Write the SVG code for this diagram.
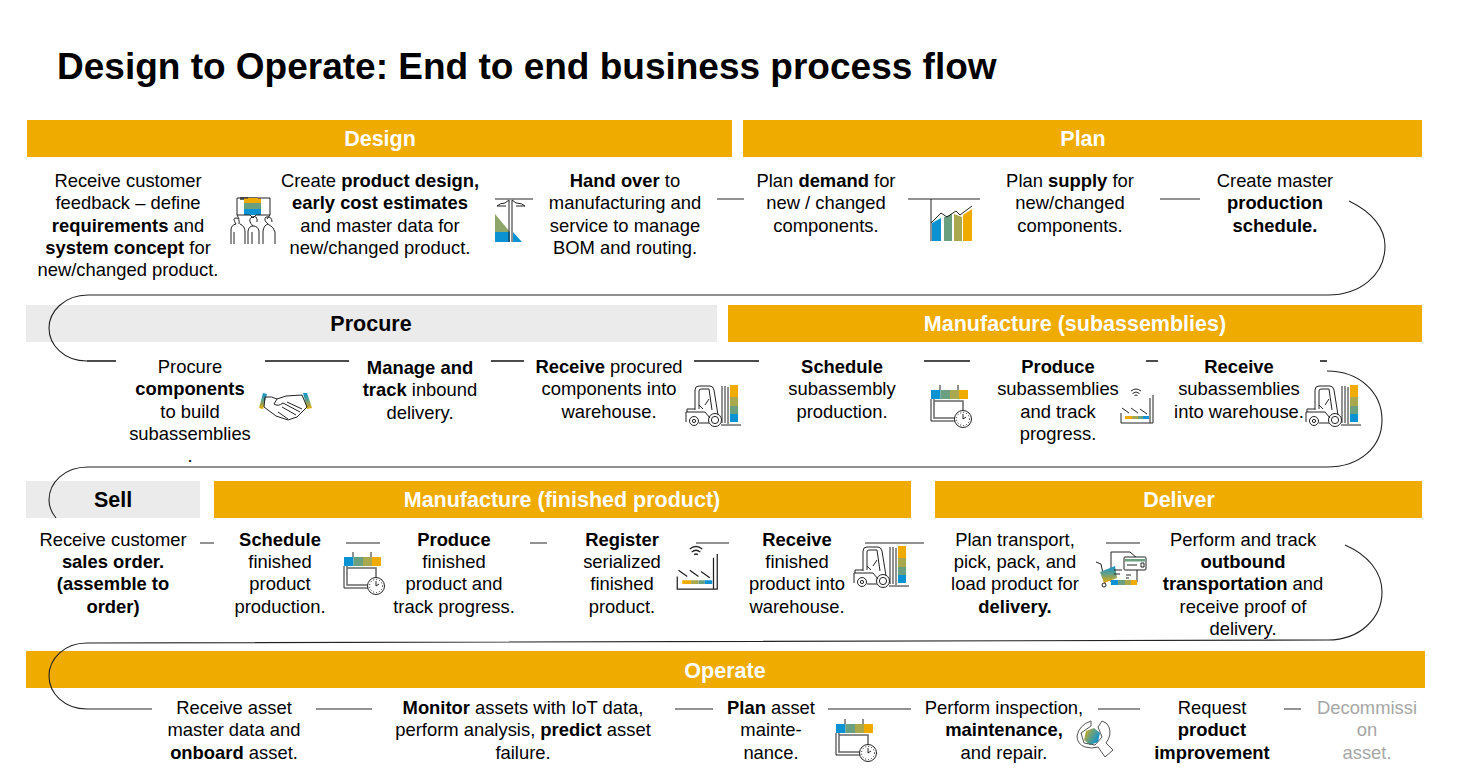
<svg xmlns="http://www.w3.org/2000/svg" width="1463" height="774" viewBox="0 0 1463 774">
<style>
text{font-family:"Liberation Sans",Arial,sans-serif;fill:#000}
.t{font-size:37px;font-weight:700}
.h{font-size:21.500px;font-weight:700;text-anchor:middle;fill:#fff}
.hd{fill:#000}
.b{font-size:18.400px;text-anchor:middle}
.b tspan.s{font-weight:700}
.off{fill:#a6a6a6}
.y{fill:#f0ab00}
.g{fill:#ebebeb}
.dash{stroke:#6f6f6f;stroke-width:1.6;fill:none}
.dk{stroke:#111;stroke-width:1.3;fill:none}
.cur{stroke:#222;stroke-width:1.1;fill:none}
.i{stroke:#222;stroke-width:1;fill:none}
.ig{stroke:#666;stroke-width:1.5;fill:none}
</style>
<defs>
<linearGradient id="vr" x1="0" y1="0" x2="0" y2="1"><stop offset="0" stop-color="#0a92d2"/><stop offset=".5" stop-color="#6aa07f"/><stop offset="1" stop-color="#f0ab00"/></linearGradient>
<linearGradient id="h2" x1="0" y1="0" x2="1" y2="0.600"><stop offset="0" stop-color="#f0ab00"/><stop offset=".5" stop-color="#6aa07f"/><stop offset="1" stop-color="#0a92d2"/></linearGradient>
<g id="forklift">
<path class="i" d="M10 25V5Q10 1 14 1H25Q28 1 29 5L33 30M14 24V6Q14 4 16 4H24L27 25M14 20L18 24M20 20L24 14"/>
<path class="i" d="M1 37V27H20L25 33M2 27V24H10"/>
<circle class="i" cx="9" cy="36" r="4.500"/><circle class="i" cx="9" cy="36" r="1.600"/>
<circle class="i" cx="30" cy="35" r="6.500"/><circle class="i" cx="30" cy="35" r="3.600"/>
<path class="i" d="M14 38H24M37 38V1M40 38V1M36 40H56"/>
<path class="i" d="M43 39V2"/>
<rect x="45" y="0" width="8" height="12" fill="#f0ab00"/><rect x="45" y="12" width="8" height="9" fill="#aaa84e"/><rect x="45" y="21" width="8" height="8" fill="#6aa07f"/><rect x="45" y="29" width="8" height="8" fill="#0a92d2"/>
</g>
<g id="calendar">
<rect x="0" y="5" width="9.500" height="9" fill="#0a92d2"/><rect x="9.500" y="5" width="9.500" height="9" fill="#6aa07f"/><rect x="19" y="5" width="9" height="9" fill="#aaa84e"/><rect x="28" y="5" width="9" height="9" fill="#f0ab00"/>
<path class="i" d="M9 0V5M27 0V5M0 14V36H24"/>
<path class="ig" d="M3 14V33H24M3 16H32V26" stroke-width="1.2"/>
<circle cx="32" cy="34" r="8.500" fill="#fff" stroke="#222"/>
<circle cx="32" cy="34" r="6.500" fill="#fff" stroke="#222" stroke-width="1" stroke-dasharray="1 2"/>
<path class="i" d="M32 29V34L35 32"/>
</g>
<g id="factory">
<path class="i" d="M1 26V36H33V8M30 36V11"/>
<path class="i" d="M2 21L9 26M11 21L18 26M20 22L27 27"/>
<rect x="5" y="29" width="7" height="3" fill="#f0ab00"/><rect x="12" y="29" width="6" height="3" fill="#aaa84e"/><rect x="18" y="29" width="5" height="3" fill="#6aa07f"/><rect x="23" y="29" width="6" height="3" fill="#0a92d2"/>
<path class="i" d="M11 4Q16 0 21 4M12.500 6.500Q16 3.500 19.500 6.500M14.500 8.500Q16 7.500 17.500 8.500"/>
</g>
</defs>

<text class="t" x="57" y="79">Design to Operate: End to end business process flow</text>

<g id="bars">
<g id="bar-design"><rect class="y" x="27" y="120" width="705" height="37"/><text class="h" x="380" y="146">Design</text></g>
<g id="bar-plan"><rect class="y" x="743" y="120" width="679" height="37"/><text class="h" x="1083" y="146">Plan</text></g>
<g id="bar-procure"><rect class="g" x="26" y="305" width="691" height="37"/><text class="h hd" x="371" y="331">Procure</text></g>
<g id="bar-manufacture-sub"><rect class="y" x="728" y="305" width="694" height="37"/><text class="h" x="1075" y="331">Manufacture (subassemblies)</text></g>
<g id="bar-sell"><rect class="g" x="26" y="481" width="174" height="37"/><text class="h hd" x="113" y="507">Sell</text></g>
<g id="bar-manufacture-fin"><rect class="y" x="214" y="481" width="697" height="37"/><text class="h" x="562" y="507">Manufacture (finished product)</text></g>
<g id="bar-deliver"><rect class="y" x="935" y="481" width="487" height="37"/><text class="h" x="1179" y="507">Deliver</text></g>
<g id="bar-operate"><rect class="y" x="26" y="651" width="1399" height="37"/><text class="h" x="725" y="678">Operate</text></g>
</g>

<g id="connectors">
<path class="dash" d="M717 199H744M908 199H980M1160 199H1200M495 199H533"/>
<path class="cur" d="M1349 201C1372 212 1385 228 1385 246C1385 275 1360 295 1328 295H88C64 295 49 312 49 328C49 345 64 361 87 361"/>
<path class="dk" d="M87 361H116M265 361H349M491 361H524M694 361H759M924 361H970M1146 361H1158M1320 361H1327"/>
<path class="cur" d="M1327 371C1360 371 1382 393 1382 420C1382 447 1360 467 1327 467H88C64 467 49 483 49 500C49 506 51 512 56 518"/>
<path class="dash" d="M200 543H214M346 543H380M530 543H547M696 543H729M865 543H924M1106 543H1140"/>
<path class="cur" d="M1345 545C1368 555 1382 572 1382 592C1382 618 1360 640 1328 640L87 643C64 643 49 659 49 676C49 693 64 709 87 709"/>
<path class="dash" d="M87 709H152M316 709H372M675 709H713M828 709H911M1098 709H1140M1284 709H1301"/>
</g>

<g id="n1"><text class="b"><tspan x="128" y="187">Receive customer</tspan><tspan x="128" y="209">feedback – define</tspan><tspan x="128" y="232"><tspan class="s">requirements</tspan> and</tspan><tspan x="128" y="254"><tspan class="s">system concept</tspan> for</tspan><tspan x="128" y="276">new/changed product.</tspan></text></g>
<g id="icon-people">
<rect x="240" y="197" width="18" height="3" fill="#666"/>
<rect x="244" y="198" width="17" height="5" fill="#f0ab00"/><rect x="244" y="203" width="17" height="6" fill="#6aa07f"/><rect x="244" y="209" width="17" height="6" fill="#0a92d2"/>
<path class="i" d="M248 198H237V215H250L253 218L256 215H270V198H258M237 215L239 219M270 215L267 219"/>
<path class="i" d="M231 244V230Q231 225 236 224M240 224Q245 226 245 232V244M236 224Q232 218 236 218Q240 218 239 224M234 232V244M248 244V231Q249 226 253 226Q258 226 259 231V244M253 226Q247 220 252 217Q258 215 257 222M252 232V244M263 244V231Q264 225 268 224Q274 227 275 232V244M268 224Q263 220 266 217Q272 216 272 222"/>
</g>
<g id="n2"><text class="b"><tspan x="380" y="187">Create <tspan class="s">product design,</tspan></tspan><tspan x="380" y="209" class="s">early cost estimates</tspan><tspan x="380" y="232">and master data for</tspan><tspan x="380" y="254">new/changed product.</tspan></text></g>
<g id="icon-handover">
<path d="M495 214L510 232H495Z" fill="#8fa66a"/><path d="M495 232H510V242H495Z" fill="#0a92d2"/><path d="M513 232L522 242H513Z" fill="#0a92d2"/>
<path class="i" d="M509 200V242M512 200V242M497 206Q500 203 505 203L509 200M497 206H506M512 200L516 203Q522 203 525 206H516"/>
</g>
<g id="n3"><text class="b"><tspan x="625" y="187"><tspan class="s">Hand over</tspan> to</tspan><tspan x="625" y="209">manufacturing and</tspan><tspan x="625" y="232">service to manage</tspan><tspan x="625" y="254">BOM and routing.</tspan></text></g>
<g id="n4"><text class="b"><tspan x="826" y="187">Plan <tspan class="s">demand</tspan> for</tspan><tspan x="826" y="209">new / changed</tspan><tspan x="826" y="232">components.</tspan></text></g>
<g id="icon-chart">
<path d="M932 223L941 218V241H932Z" fill="#0a92d2"/><path d="M944 217L952 214V241H944Z" fill="#6aa07f"/><path d="M954 214L962 217V241H954Z" fill="#aaa84e"/><path d="M963 215L972 209V241H963Z" fill="#f0ab00"/>
<path class="i" d="M931 199V241M931 223L941 213L947 217L956 211L960 215L972 206"/>
</g>
<g id="n5"><text class="b"><tspan x="1070" y="187">Plan <tspan class="s">supply</tspan> for</tspan><tspan x="1070" y="209">new/changed</tspan><tspan x="1070" y="232">components.</tspan></text></g>
<g id="n6"><text class="b"><tspan x="1275" y="187">Create master</tspan><tspan x="1275" y="209" class="s">production</tspan><tspan x="1275" y="232" class="s">schedule.</tspan></text></g>

<g id="n7"><text class="b"><tspan x="190" y="373">Procure</tspan><tspan x="190" y="395" class="s">components</tspan><tspan x="190" y="418">to build</tspan><tspan x="190" y="440">subassemblies</tspan><tspan x="190" y="462">.</tspan></text></g>
<g id="icon-handshake">
<path d="M263 393L267 394L263 409L259 408Z" fill="url(#vr)"/><path d="M303 393L307 393L312 408L307 409Z" fill="url(#vr)"/>
<path class="i" d="M265 397Q272 396 277 399L286 396L302 395L307 407L297 417L288 420L276 416L264 407ZM277 399L274 404Q278 407 283 403L300 412M287 402L302 409M282 407L296 415M278 412L288 419"/>
</g>
<g id="n8"><text class="b"><tspan x="420" y="374" class="s">Manage and</tspan><tspan x="420" y="396"><tspan class="s">track</tspan> inbound</tspan><tspan x="420" y="419">delivery.</tspan></text></g>
<g id="n9"><text class="b"><tspan x="609" y="373"><tspan class="s">Receive</tspan> procured</tspan><tspan x="609" y="395">components into</tspan><tspan x="609" y="418">warehouse.</tspan></text></g>
<use id="icon-forklift-1" href="#forklift" x="685" y="385"/>
<g id="n10"><text class="b"><tspan x="842" y="373" class="s">Schedule</tspan><tspan x="842" y="395">subassembly</tspan><tspan x="842" y="418">production.</tspan></text></g>
<use id="icon-calendar-1" href="#calendar" x="931" y="385"/>
<g id="n11"><text class="b"><tspan x="1058" y="373" class="s">Produce</tspan><tspan x="1058" y="395">subassemblies</tspan><tspan x="1058" y="418">and track</tspan><tspan x="1058" y="440">progress.</tspan></text></g>
<use id="icon-factory-1" href="#factory" x="1120" y="387"/>
<g id="n12"><text class="b"><tspan x="1239" y="373" class="s">Receive</tspan><tspan x="1239" y="395">subassemblies</tspan><tspan x="1239" y="418">into warehouse.</tspan></text></g>
<use id="icon-forklift-2" href="#forklift" x="1305" y="385"/>

<g id="n13"><text class="b"><tspan x="113" y="546">Receive customer</tspan><tspan x="113" y="568" class="s">sales order.</tspan><tspan x="113" y="590" class="s">(assemble to</tspan><tspan x="113" y="613" class="s">order)</tspan></text></g>
<g id="n14"><text class="b"><tspan x="280" y="546" class="s">Schedule</tspan><tspan x="280" y="568">finished</tspan><tspan x="280" y="590">product</tspan><tspan x="280" y="613">production.</tspan></text></g>
<use id="icon-calendar-2" href="#calendar" x="344" y="552"/>
<g id="n15"><text class="b"><tspan x="454" y="546" class="s">Produce</tspan><tspan x="454" y="568">finished</tspan><tspan x="454" y="590">product and</tspan><tspan x="454" y="613">track progress.</tspan></text></g>
<g id="n16"><text class="b"><tspan x="622" y="546" class="s">Register</tspan><tspan x="622" y="568">serialized</tspan><tspan x="622" y="590">finished</tspan><tspan x="622" y="613">product.</tspan></text></g>
<use id="icon-factory-2" href="#factory" transform="translate(676 544) scale(1.25)"/>
<g id="n17"><text class="b"><tspan x="797" y="546" class="s">Receive</tspan><tspan x="797" y="568">finished</tspan><tspan x="797" y="590">product into</tspan><tspan x="797" y="613">warehouse.</tspan></text></g>
<use id="icon-forklift-3" href="#forklift" x="853" y="546"/>
<g id="n18"><text class="b"><tspan x="1015" y="546">Plan transport,</tspan><tspan x="1015" y="568">pick, pack, and</tspan><tspan x="1015" y="590">load product for</tspan><tspan x="1015" y="613" class="s">delivery.</tspan></text></g>
<g id="icon-delivery">
<path class="i" d="M1111 552H1130L1137 558V582H1111ZM1096 562L1101 564L1105 583"/>
<path d="M1100 572L1115 566L1117 578L1104 583Z" fill="url(#vr)"/>
<circle class="i" cx="1104" cy="585" r="2"/>
<rect x="1111" y="580" width="7" height="5" fill="#0a92d2"/><rect x="1118" y="580" width="7" height="5" fill="#6aa07f"/><rect x="1125" y="580" width="6" height="5" fill="#aaa84e"/><rect x="1131" y="580" width="6" height="5" fill="#f0ab00"/>
<rect x="1124" y="557" width="22" height="13" rx="1" fill="#fff" stroke="#222"/>
<rect x="1125" y="559" width="20" height="2.500" fill="#6aa07f"/>
<path class="i" d="M1127 565H1137M1141 563H1144V567H1141ZM1114 570H1122M1114 574H1120M1126 575H1131M1126 578H1129"/>
</g>
<g id="n19"><text class="b"><tspan x="1243" y="546">Perform and track</tspan><tspan x="1243" y="568" class="s">outbound</tspan><tspan x="1243" y="590"><tspan class="s">transportation</tspan> and</tspan><tspan x="1243" y="613">receive proof of</tspan><tspan x="1243" y="635">delivery.</tspan></text></g>

<g id="n20"><text class="b"><tspan x="234" y="714">Receive asset</tspan><tspan x="234" y="736">master data and</tspan><tspan x="234" y="759"><tspan class="s">onboard</tspan> asset.</tspan></text></g>
<g id="n21"><text class="b"><tspan x="523" y="714"><tspan class="s">Monitor</tspan> assets with IoT data,</tspan><tspan x="523" y="736">perform analysis, <tspan class="s">predict</tspan> asset</tspan><tspan x="523" y="759">failure.</tspan></text></g>
<g id="n22"><text class="b"><tspan x="771" y="714"><tspan class="s">Plan</tspan> asset</tspan><tspan x="771" y="736">mainte-</tspan><tspan x="771" y="759">nance.</tspan></text></g>
<use id="icon-calendar-3" href="#calendar" x="836" y="719"/>
<g id="n23"><text class="b"><tspan x="1004" y="714">Perform inspection,</tspan><tspan x="1004" y="736" class="s">maintenance,</tspan><tspan x="1004" y="759">and repair.</tspan></text></g>
<g id="icon-wrench">
<path d="M1086 731L1094 728L1100 733L1098 742L1090 745L1084 740Z" fill="url(#h2)"/>
<path d="M1091 721Q1079 725 1077 736Q1077 744 1085 747Q1092 749 1098 747L1105 757L1113 750L1106 743Q1112 735 1109 727Q1107 722 1102 721L1098 727L1102 737L1095 745L1084 743L1081 733L1091 726Z" fill="none" stroke="#555" stroke-width="1"/>
</g>
<g id="n24"><text class="b"><tspan x="1212" y="714">Request</tspan><tspan x="1212" y="736" class="s">product</tspan><tspan x="1212" y="759" class="s">improvement</tspan></text></g>
<g id="n25"><text class="b off"><tspan x="1367" y="714" class="off">Decommissi</tspan><tspan x="1367" y="736" class="off">on</tspan><tspan x="1367" y="759" class="off">asset.</tspan></text></g>
</svg>
